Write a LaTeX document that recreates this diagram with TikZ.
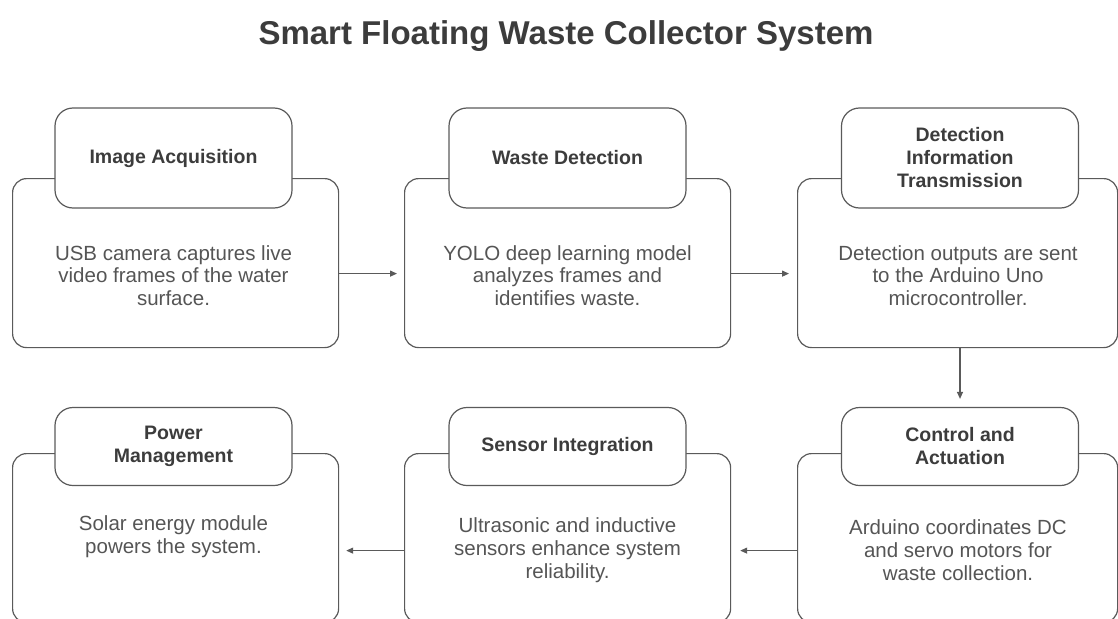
\documentclass[tikz,border=0pt]{standalone}
\usepackage{fontspec}
\setmainfont{Liberation Sans}
\usetikzlibrary{arrows.meta}
\definecolor{linegray}{HTML}{5A5A5A}
\definecolor{titlegray}{HTML}{3C3C3C}
\definecolor{bodygray}{HTML}{555555}
\begin{document}
\begin{tikzpicture}[x=1pt,y=-1pt,
  bigbox/.style={draw=linegray, line width=1.2pt, rounded corners=14pt, minimum width=326pt, minimum height=169pt, inner sep=0pt, anchor=north west},
  headbox/.style={draw=linegray, line width=1.2pt, rounded corners=18pt, fill=white, minimum width=237pt, inner sep=0pt, align=center, font=\fontsize{19.5}{23}\selectfont\bfseries, text=titlegray},
  bodytext/.style={align=center, font=\fontsize{20.5}{22.8}\selectfont, text=bodygray, inner sep=0pt},
  flow/.style={draw=linegray, line width=1.2pt, -{Triangle[length=7pt,width=6pt]}}]
\useasboundingbox (0,0) rectangle (1118,618);
\clip (0,0) rectangle (1118,618);

\node[anchor=base, font=\fontsize{33}{36}\selectfont\bfseries, text=titlegray] (title) at (566,45) {Smart Floating Waste Collector System};

% top row
\node[bigbox] (b1) at (12,178) {};
\node[bigbox] (b2) at (404,178) {};
\node[bigbox, minimum width=320pt] (b3) at (797,178) {};
\node[headbox, minimum height=100pt] (h1) at (173.5,158) {Image Acquisition};
\node[headbox, minimum height=100pt] (h2) at (567.5,158) {Waste Detection};
\node[headbox, minimum height=100pt] (h3) at (960,158) {Detection\\Information\\Transmission};
\node[bodytext] (t1) at (173.5,275.5) {USB camera captures live\\video frames of the water\\surface.};
\node[bodytext] (t2) at (567.5,275.5) {YOLO deep learning model\\analyzes frames and\\identifies waste.};
\node[bodytext] (t3) at (958,275.5) {Detection outputs are sent\\to the Arduino Uno\\microcontroller.};

% bottom row
\node[bigbox, minimum width=320pt] (b4) at (797,453) {};
\node[bigbox] (b5) at (404,453) {};
\node[bigbox] (b6) at (12,453) {};
\node[headbox, minimum height=78pt] (h4) at (960,446.5) {Control and\\Actuation};
\node[headbox, minimum height=78pt] (h5) at (567.5,446.5) {Sensor Integration};
\node[headbox, minimum height=78pt] (h6) at (173.5,446.5) {Power\\Management};
\node[bodytext] (t4) at (958,550) {Arduino coordinates DC\\and servo motors for\\waste collection.};
\node[bodytext] (t5) at (567.5,550) {Ultrasonic and inductive\\sensors enhance system\\reliability.};
\node[bodytext] (t6) at (173.5,537) {Solar energy module\\powers the system.};

% connectors
\draw[flow, shorten >=7pt] ([yshift=-10.5pt]b1.east) -- ([yshift=-10.5pt]b2.west);
\draw[flow, shorten >=8pt] ([yshift=-10.5pt]b2.east) -- ([yshift=-10.5pt]b3.west);
\draw[flow, shorten >=8pt] (h3.south |- b3.south) -- (h4.north);
\draw[flow, shorten >=9pt] ([yshift=-12.5pt]b4.west) -- ([yshift=-12.5pt]b5.east);
\draw[flow, shorten >=7pt] ([yshift=-12.5pt]b5.west) -- ([yshift=-12.5pt]b6.east);
\end{tikzpicture}
\end{document}
